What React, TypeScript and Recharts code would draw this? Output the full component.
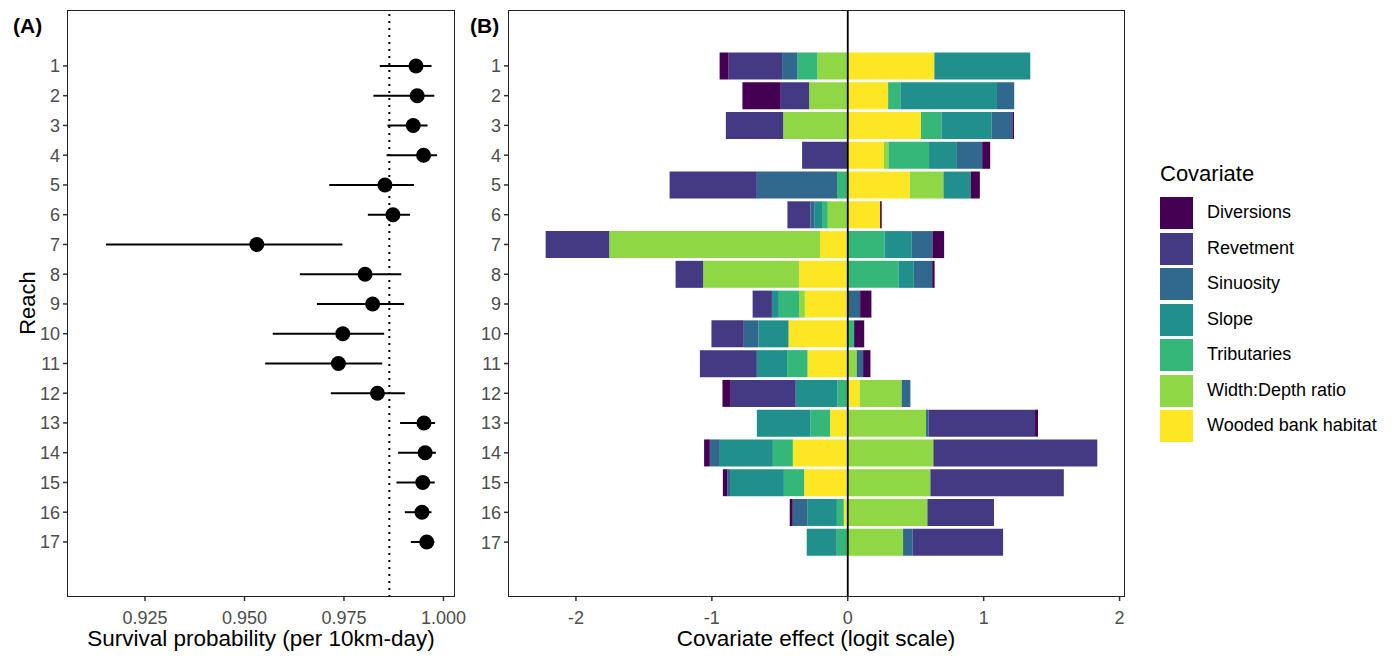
import {
  ScatterChart,
  Scatter,
  ErrorBar,
  BarChart,
  Bar,
  XAxis,
  YAxis,
  ReferenceLine,
} from 'recharts'

const reaches = [1, 2, 3, 4, 5, 6, 7, 8, 9, 10, 11, 12, 13, 14, 15, 16, 17]

// panel A: survival estimate with 95% interval
const survival = [0.9931, 0.9934, 0.9924, 0.995, 0.9853, 0.9873, 0.9531, 0.9803, 0.9822, 0.9747, 0.9736, 0.9834, 0.9951, 0.9954, 0.9948, 0.9946, 0.9958]
const survLow = [0.984, 0.9824, 0.9859, 0.9857, 0.9713, 0.981, 0.9152, 0.9639, 0.9682, 0.9571, 0.9552, 0.9717, 0.9891, 0.9886, 0.9882, 0.9903, 0.9918]
const survHigh = [0.997, 0.9977, 0.996, 0.9984, 0.9926, 0.9916, 0.9746, 0.9894, 0.9901, 0.9851, 0.9846, 0.9903, 0.9979, 0.9981, 0.9978, 0.997, 0.9977]
const meanSurvival = 0.9864

// panel B: covariate effects (logit scale)
const diversions = [-0.066, -0.282, 0.012, 0.059, 0.068, 0.012, 0.086, 0.018, 0.083, 0.074, 0.054, -0.061, 0.022, -0.042, -0.032, -0.022, 0]
const revetment = [-0.394, -0.209, -0.422, -0.336, -0.642, -0.169, -0.468, -0.203, -0.142, -0.238, -0.419, -0.478, 0.784, 1.206, 0.982, 0.49, 0.665]
const sinuosity = [-0.113, 0.127, 0.152, 0.191, -0.59, -0.032, 0.152, 0.135, 0.091, -0.108, 0.047, 0.064, 0.018, -0.074, -0.027, -0.107, 0.071]
const slope = [0.706, 0.711, 0.37, 0.2, 0.2, -0.054, 0.201, 0.113, -0.051, -0.221, -0.223, -0.307, -0.395, -0.39, -0.39, -0.218, -0.221]
const tributaries = [-0.147, 0.09, 0.15, 0.299, -0.079, -0.042, 0.27, 0.373, -0.149, 0.047, -0.15, -0.076, -0.144, -0.147, -0.149, -0.051, -0.081]
const widthDepth = [-0.223, -0.284, -0.475, 0.034, 0.248, -0.147, -1.551, -0.706, -0.042, 0, 0.066, 0.309, 0.576, 0.63, 0.608, 0.586, 0.407]
const wooded = [0.637, 0.297, 0.539, 0.265, 0.456, 0.238, -0.204, -0.358, -0.316, -0.436, -0.296, 0.088, -0.13, -0.404, -0.321, -0.029, 0]

const covariates = [
  { key: 'diversions', label: 'Diversions', color: '#440154', values: diversions },
  { key: 'revetment', label: 'Revetment', color: '#443A83', values: revetment },
  { key: 'sinuosity', label: 'Sinuosity', color: '#31688E', values: sinuosity },
  { key: 'slope', label: 'Slope', color: '#21908C', values: slope },
  { key: 'tributaries', label: 'Tributaries', color: '#35B779', values: tributaries },
  { key: 'widthDepth', label: 'Width:Depth ratio', color: '#8FD744', values: widthDepth },
  { key: 'wooded', label: 'Wooded bank habitat', color: '#FDE725', values: wooded },
]

const survTicks = [0.925, 0.95, 0.975, 1.0]
const effectTicks = [-2, -1, 0, 1, 2]

const FONT = '"Liberation Sans", Arial, sans-serif'
const tickStyle = { fill: '#4d4d4d', fontSize: 18, fontFamily: FONT }

const survData = reaches.map((r, i) => ({
  reach: r,
  est: survival[i],
  err: [survival[i] - survLow[i], survHigh[i] - survival[i]],
}))

const effectData = reaches.map((r, i) => {
  const row: Record<string, number | string> = { reach: String(r) }
  covariates.forEach((c) => {
    row[c.key] = c.values[i]
  })
  return row
})

// stacked from zero outward: wooded first, diversions last
const stackOrder = [...covariates].reverse()

function Dot(props: any) {
  return <circle cx={props.cx} cy={props.cy} r={7.5} fill="#000" />
}

const text = (s: React.CSSProperties): React.CSSProperties => ({
  position: 'absolute',
  fontFamily: FONT,
  color: '#000',
  whiteSpace: 'nowrap',
  ...s,
})

export default function App() {
  return (
    <div style={{ position: 'absolute', left: 0, top: 0, width: 1395, height: 656, background: '#fff' }}>
      <div style={{ position: 'absolute', left: 0, top: 0 }}>
        <ScatterChart width={480} height={656} margin={{ top: 10, right: 25, bottom: 0, left: 0 }}>
          <XAxis
            type="number"
            dataKey="est"
            domain={[0.9054, 1.0029]}
            ticks={survTicks}
            tickFormatter={(v: number) => v.toFixed(3)}
            allowDataOverflow
            height={59}
            axisLine={false}
            tickSize={4}
            tickMargin={10}
            tickLine={{ stroke: '#333', strokeWidth: 1.5 }}
            tick={tickStyle}
          />
          <YAxis
            type="number"
            dataKey="reach"
            domain={[-0.88, 18.85]}
            reversed
            ticks={reaches}
            interval={0}
            allowDataOverflow
            width={67}
            axisLine={false}
            tickSize={4}
            tickMargin={3}
            tickLine={{ stroke: '#333', strokeWidth: 1.5 }}
            tick={tickStyle}
          />
          <ReferenceLine x={meanSurvival} stroke="#000" strokeWidth={2} strokeDasharray="2 5" />
          <Scatter data={survData} shape={<Dot />} isAnimationActive={false}>
            <ErrorBar dataKey="err" direction="x" width={0} stroke="#000" strokeWidth={2} />
          </Scatter>
        </ScatterChart>
      </div>
      <div style={{ position: 'absolute', left: 67, top: 10, width: 388, height: 587, border: '1.5px solid #222', boxSizing: 'border-box', pointerEvents: 'none' }} />

      <div style={{ position: 'absolute', left: 460, top: 0 }}>
        <BarChart
          width={690}
          height={656}
          layout="vertical"
          data={effectData}
          stackOffset="sign"
          barCategoryGap="5%"
          margin={{ top: 10, right: 25, bottom: 0, left: 0 }}
        >
          <XAxis
            type="number"
            domain={[-2.5, 2.04]}
            ticks={effectTicks}
            allowDataOverflow
            height={59}
            axisLine={false}
            tickSize={4}
            tickMargin={10}
            tickLine={{ stroke: '#333', strokeWidth: 1.5 }}
            tick={tickStyle}
          />
          <YAxis
            type="category"
            dataKey="reach"
            width={48}
            padding={{ top: 41, bottom: 40 }}
            interval={0}
            axisLine={false}
            tickSize={4}
            tickMargin={3}
            tickLine={{ stroke: '#333', strokeWidth: 1.5 }}
            tick={tickStyle}
          />
          {stackOrder.map((c) => (
            <Bar key={c.key} dataKey={c.key} stackId="a" fill={c.color} isAnimationActive={false} />
          ))}
          <ReferenceLine x={0} stroke="#000" strokeWidth={1.8} />
        </BarChart>
      </div>
      <div style={{ position: 'absolute', left: 508, top: 10, width: 617, height: 587, border: '1.5px solid #222', boxSizing: 'border-box', pointerEvents: 'none' }} />

      <div style={text({ left: 13, top: 14, fontSize: 21, fontWeight: 'bold' })}>(A)</div>
      <div style={text({ left: 470, top: 14, fontSize: 21, fontWeight: 'bold' })}>(B)</div>
      <div style={text({ left: 28, top: 303, fontSize: 22, transform: 'translate(-50%, -50%) rotate(-90deg)' })}>Reach</div>
      <div style={text({ left: 261, top: 626, fontSize: 22.5, transform: 'translateX(-50%)' })}>
        Survival probability (per 10km-day)
      </div>
      <div style={text({ left: 816, top: 626, fontSize: 22.5, transform: 'translateX(-50%)' })}>
        Covariate effect (logit scale)
      </div>

      <div style={text({ left: 1160, top: 161, fontSize: 22 })}>Covariate</div>
      {covariates.map((c, i) => (
        <div key={c.key}>
          <div
            style={{ position: 'absolute', left: 1160, top: 197 + i * 35.5, width: 33, height: 32, background: c.color }}
          />
          <div style={text({ left: 1207, top: 202 + i * 35.5, fontSize: 18 })}>{c.label}</div>
        </div>
      ))}
    </div>
  )
}
